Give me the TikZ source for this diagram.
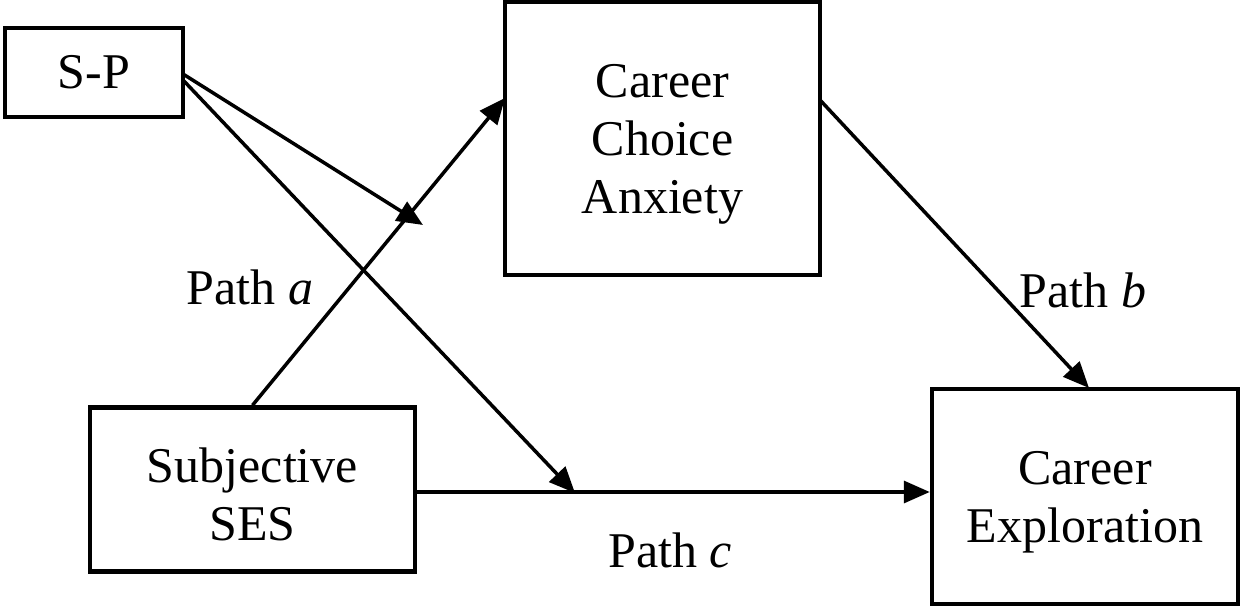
\documentclass[tikz,border=0pt]{standalone}
\usepackage{fontspec}
\setmainfont{Liberation Serif}
\usetikzlibrary{arrows.meta}
\newcommand{\topstrut}{\rule{0pt}{45pt}}
\begin{document}
\begin{tikzpicture}[x=1pt,y=-1pt,
  box/.style={draw, line width=4.5pt, rectangle, inner sep=0pt, align=center,
    font=\fontsize{50}{58}\selectfont},
  conn/.style={line width=3.5pt, -{Triangle[length=26pt,width=22pt]}},
  lab/.style={font=\fontsize{50}{58}\selectfont, inner sep=0pt}]
\useasboundingbox (0,0) rectangle (1244,612);
\node[box, minimum width=178pt, minimum height=89pt] (sp) at (94,72.5) {S-P};
\node[box, minimum width=315pt, minimum height=273pt] (cca) at (662.5,138.5) {\topstrut Career\\Choice\\Anxiety};
\node[box, minimum width=325pt, minimum height=164pt] (ses) at (252.5,489.5) {\topstrut Subjective\\SES};
\node[box, minimum width=306pt, minimum height=215pt] (ce) at (1085,496.5) {\topstrut Career\\Exploration};
\coordinate (a2) at (505,98);
\coordinate (b1) at (820,100);
\coordinate (sp1) at (183,74);
\coordinate (sp2) at (183,80);
\coordinate (m1) at (423,225);
\coordinate (m2) at (575,493);
\coordinate (c1) at (ses.east |- 0,492);
\coordinate (c2) at (ce.west |- 0,492);
\coordinate (b2) at (1089,388);
\draw[conn] (ses.north) -- (a2);
\draw[conn] (b1) -- (b2);
\draw[conn] (c1) -- (c2);
\draw[conn] (sp1) -- (m1);
\draw[conn] (sp2) -- (m2);
\node[lab] (la) at (250,287) {Path \textit{a}};
\node[lab] (lb) at (1083,290) {Path \textit{b}};
\node[lab] (lc) at (670,550) {Path \textit{c}};
\end{tikzpicture}
\end{document}
